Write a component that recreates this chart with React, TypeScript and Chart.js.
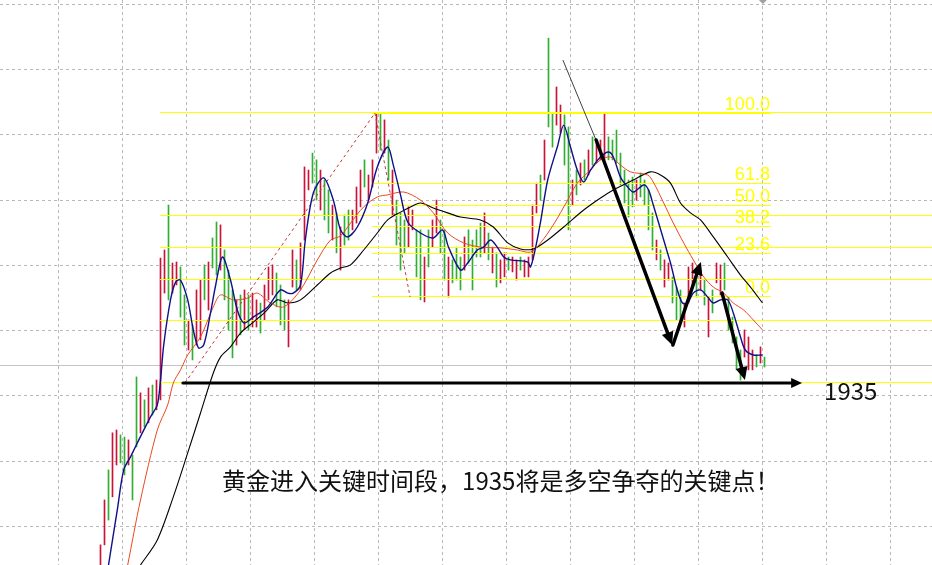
import { useEffect, useRef } from "react";
import { Chart, registerables } from "chart.js";

Chart.register(...registerables);

// ---- bar data (bar index 0..166), prices ----
const barHigh = [
  1873.0, 1890.2, 1901.7, 1915.9, 1917.0, 1915.1, 1914.3, 1913.2, 1907.4, 1937.3,
  1931.2, 1928.5, 1933.1, 1934.2, 1936.1, 1982.8, 1985.9, 2003.1, 1980.9, 1981.3,
  1979.4, 1968.7, 1959.1, 1957.2, 1970.6, 1974.4, 1980.2, 1981.3, 1990.5, 1996.6,
  1995.5, 1985.9, 1978.2, 1970.6, 1966.8, 1968.7, 1970.6, 1968.7, 1969.4, 1966.8,
  1965.6, 1972.5, 1979.4, 1980.2, 1977.1, 1972.5, 1966.8, 1966.8, 1985.9, 1982.1,
  1988.6, 2017.7, 2016.5, 2023.0, 2020.4, 2016.5, 2012.7, 2008.9, 2003.1, 2000.1,
  1994.7, 1999.3, 2001.2, 2001.2, 2010.0, 2016.5, 2020.4, 2014.6, 2020.4, 2038.3,
  2038.3, 2035.7, 2028.0, 2016.5, 2005.0, 2000.1, 1997.4, 2002.4, 2001.2, 1993.6,
  1993.6, 1983.2, 1993.6, 1997.4, 2005.0, 1997.4, 1993.6, 1983.2, 1982.1, 1987.0,
  1983.2, 1990.9, 1993.6, 1989.7, 1993.6, 1996.2, 2000.1, 1992.4, 1987.0, 1984.8,
  1982.1, 1984.8, 1983.2, 1983.2, 1982.1, 1983.2, 1982.1, 1983.2, 2003.1, 2011.5,
  2014.6, 2028.0, 2067.0, 2038.3, 2048.3, 2041.4, 2037.6, 2033.0, 2012.7, 2016.5,
  2019.2, 2020.4, 2024.2, 2029.2, 2028.0, 2028.0, 2038.3, 2029.2, 2028.0, 2031.8,
  2023.0, 2016.5, 2012.7, 2013.8, 2012.7, 2015.4, 2012.7, 2008.9, 2000.1, 1989.7,
  1985.9, 1982.1, 1980.9, 1975.6, 1971.7, 1970.6, 1965.6, 1979.4, 1980.9, 1978.2,
  1978.2, 1974.4, 1967.9, 1970.6, 1980.9, 1980.2, 1980.9, 1967.9, 1960.2, 1952.6,
  1947.6, 1955.3, 1952.6, 1947.6, 1945.7, 1948.8, 1944.9,
];

const barLow = [
  1861.5, 1873.0, 1882.5, 1891.4, 1903.6, 1904.4, 1899.8, 1903.6, 1890.2, 1910.5,
  1915.9, 1918.1, 1919.7, 1922.7, 1924.7, 1928.5, 1969.4, 1966.8, 1969.4, 1972.5,
  1960.2, 1949.5, 1947.6, 1943.8, 1949.5, 1951.5, 1966.8, 1962.9, 1979.0, 1976.3,
  1978.2, 1966.8, 1955.3, 1944.6, 1949.5, 1953.4, 1955.3, 1955.3, 1956.4, 1956.4,
  1954.1, 1959.1, 1966.8, 1968.7, 1964.1, 1957.2, 1955.3, 1948.8, 1971.7, 1970.6,
  1970.6, 1989.7, 2008.9, 2011.5, 2005.0, 2001.2, 1997.4, 1992.4, 1989.7, 1984.8,
  1978.2, 1987.8, 1989.7, 1993.6, 1996.2, 2002.4, 2010.0, 2005.0, 2010.0, 2023.0,
  2024.2, 2023.0, 2012.7, 1999.3, 1987.8, 1978.2, 1984.8, 1987.0, 1993.6, 1975.6,
  1966.8, 1966.0, 1979.4, 1987.0, 1992.4, 1984.8, 1974.4, 1967.9, 1973.3, 1974.4,
  1970.6, 1978.2, 1980.9, 1970.6, 1983.2, 1983.2, 1984.8, 1982.1, 1977.1, 1971.7,
  1973.3, 1975.6, 1978.2, 1977.5, 1974.4, 1978.2, 1975.6, 1975.6, 1982.1, 2000.1,
  2005.0, 2012.7, 2033.0, 2025.3, 2033.7, 2030.7, 2018.4, 1993.6, 2003.1, 2007.0,
  2010.8, 2012.7, 2014.6, 2018.4, 2019.2, 2020.4, 2020.4, 2020.4, 2020.4, 2019.2,
  2010.8, 2003.9, 1998.5, 2002.4, 2005.0, 2006.2, 2003.1, 1993.6, 1985.9, 1982.1,
  1978.2, 1971.7, 1974.4, 1965.6, 1959.1, 1958.0, 1956.4, 1965.6, 1971.7, 1967.9,
  1970.6, 1964.8, 1952.6, 1961.8, 1973.3, 1968.7, 1970.6, 1955.3, 1950.3, 1940.0,
  1936.1, 1944.9, 1940.0, 1940.0, 1941.1, 1942.6, 1941.1,
];

// R = red bar, G = green bar
const barDir =
  "RRGRRGGRGG" + "RGRGRRRGRR" + "GGRGRRGRGG" + "RGGGRGRGRR" + "GRRRGGGRRG" +
  "RRRGGRGGRG" + "RGGRRRGRRR" + "GRGRGGGRRG" + "GRGRRGGRGG" + "GRGGGGRGRG" +
  "RRGRRGRRRR" + "GRGGRRGGRG" + "RGRGRRRGGG" + "GGGGRGGGGR" + "GRRGGGRRRG" +
  "RGRGRRGGGG" + "GRRRGRG";

// ---- moving averages ----
const fastMaX = [2, 4.2, 5.8, 7.5, 9.2, 12.5, 14.2, 15, 15.8, 17.5, 18.8, 20, 21.8, 23.2, 24.5, 25.8, 27.5, 28.8, 30.5, 32.5, 34.2, 35.8, 38.2, 41.8, 45, 46.8, 48.2, 50, 51.2, 53.2, 55.8, 58.2, 60, 61.8, 64.2, 66.8, 69.2, 71.8, 73.2, 75, 76.8, 80, 83.2, 85.5, 87, 90, 91.8, 94.2, 95.8, 97.5, 99.2, 100.8, 102.5, 106.8, 107.5, 108.8, 110, 111.8, 114.2, 115.8, 117.5, 119.2, 120.8, 122.5, 125, 127, 128.2, 130, 131.8, 133.2, 135.8, 137, 138.2, 140.8, 142.5, 144.2, 145.5, 146.8, 148.2, 150, 151.8, 153.2, 155, 156.8, 158.2, 160, 161.2, 163.2, 165.5];
const fastMaY = [1865.3, 1886.4, 1901.7, 1906.7, 1912.0, 1922.0, 1926.6, 1936.1, 1949.5, 1966.8, 1973.7, 1974.4, 1966.8, 1955.3, 1948.4, 1949.5, 1961.8, 1972.5, 1983.2, 1974.4, 1962.9, 1958.0, 1960.2, 1964.1, 1970.6, 1969.4, 1969.4, 1972.5, 1989.7, 2007.7, 2013.5, 2005.0, 1993.6, 1990.9, 1994.7, 2003.9, 2017.7, 2025.3, 2018.4, 2007.0, 1996.6, 1992.4, 1990.5, 1993.6, 1987.0, 1978.2, 1980.9, 1985.9, 1987.0, 1989.7, 1987.0, 1983.2, 1982.1, 1981.3, 1979.4, 1987.0, 1996.6, 2012.7, 2025.3, 2033.7, 2025.3, 2016.5, 2011.9, 2016.5, 2021.5, 2023.4, 2021.5, 2013.8, 2010.0, 2008.1, 2010.8, 2008.9, 2003.1, 1989.7, 1980.9, 1970.6, 1965.6, 1965.6, 1969.4, 1970.6, 1967.9, 1965.6, 1966.8, 1966.8, 1961.8, 1952.6, 1947.6, 1945.7, 1945.7];

const midMaX = [6.8, 10, 14.2, 16.8, 18.2, 20, 21.8, 25, 28.2, 30, 33.2, 36.8, 39.2, 42.5, 45.8, 50, 54.2, 57.5, 60, 62.5, 65.8, 69.2, 71.8, 75.8, 80, 83.2, 86.8, 90.8, 95, 100, 104.2, 107.5, 110, 113.2, 116.8, 119.2, 122.5, 125, 127.5, 130, 132.5, 136.8, 138.2, 140.8, 143.2, 145.8, 148.2, 150.8, 153.2, 155.8, 158.2, 160.8, 163.2, 165.5];
const midMaY = [1865.3, 1890.2, 1917.0, 1926.6, 1935.0, 1940.0, 1945.7, 1952.6, 1964.1, 1968.7, 1966.8, 1967.5, 1969.4, 1965.6, 1964.1, 1970.6, 1982.1, 1989.7, 1991.3, 1996.2, 2002.4, 2006.2, 2007.0, 2008.1, 2005.0, 2000.1, 1992.4, 1988.6, 1987.0, 1986.7, 1985.9, 1985.1, 1988.6, 1995.5, 2005.0, 2011.5, 2016.5, 2020.4, 2021.5, 2018.4, 2015.8, 2014.6, 2011.9, 2003.9, 1996.2, 1988.6, 1982.1, 1975.6, 1971.7, 1969.4, 1965.6, 1962.9, 1959.1, 1955.3];

const slowMaX = [10, 14.2, 18.2, 21.8, 25, 28.2, 30, 32.5, 35, 38, 41.2, 44.2, 46.8, 50, 54.2, 57.5, 60, 62.5, 65.8, 69.2, 71.8, 75, 77.5, 80, 83.2, 86.8, 90, 95, 98.2, 101.8, 105, 108.2, 111.8, 115.8, 120.8, 125, 128.2, 133.2, 137.5, 140, 142.5, 145, 147.5, 150, 153.2, 156.8, 160, 162.5, 165.5];
const slowMaY = [1865.3, 1874.9, 1891.4, 1908.2, 1923.5, 1938.8, 1944.9, 1948.8, 1954.1, 1958.0, 1962.2, 1966.8, 1965.6, 1966.8, 1972.5, 1977.1, 1979.0, 1980.2, 1985.9, 1992.4, 1997.4, 2000.4, 2002.4, 2003.9, 2002.0, 2000.1, 1998.5, 1997.4, 1994.7, 1988.6, 1986.3, 1986.3, 1989.7, 1994.7, 2001.2, 2005.8, 2008.9, 2012.7, 2015.8, 2014.6, 2011.5, 2003.9, 2000.1, 1997.4, 1990.9, 1983.2, 1976.3, 1971.7, 1965.6];

// ---- Fibonacci tools ----
const fibLabels = ["100.0", "61.8", "50.0", "38.2", "23.6", "0.0"];
const fibPrices = [2038.3, 2011.5, 2003.1, 1994.7, 1984.7, 1967.9];
const fibSpan = [67.9, 167.6]; // bar range of the labelled tool
const fib2Prices = [2038.7, 1999.0, 1986.8, 1974.5, 1959.0, 1935.0];
const fib2Start = 14.9;
const fibTrend1 = [21.1, 1935.0, 68.6, 2038.3];
const fibTrend2 = [68.6, 2038.3, 77.4, 1967.9];

// ---- grid, price line, annotations ----
const gridPrices = [1880, 1905, 1930, 1955, 1980, 2005, 2030, 2055, 2080];
const gridBars = [-10.5, 5.5, 21.5, 37.5, 53.5, 69.5, 85.5, 101.5, 117.5, 133.5, 149.5, 165.5, 181.5, 197.5];
const lastPrice = 1941.5;
const keyLevel = 1935;
const keyArrow = [20.6, 175.4];
const keyLabel = "1935";
const keyLabelPos = [180.9, 1931.9];
const thinTrend = [115.6, 2058.6, 124.9, 2024.2];
const swingArrows = [
  [123.9, 2028.0, 142.9, 1949.5],
  [143.1, 1949.5, 150.1, 1981.3],
  [155.4, 1969.4, 161.1, 1936.1],
];
const noteText = "黄金进入关键时间段，1935将是多空争夺的关键点！";
const notePos = [30.4, 1897.5];
const markerBar = 165.6;

const RED = "#cc1238";
const GREEN = "#30b030";
const YELLOW = "#ffff00";

function drawArrow(ctx: CanvasRenderingContext2D, x1: number, y1: number, x2: number, y2: number, w: number, hl: number, hw: number) {
  const a = Math.atan2(y2 - y1, x2 - x1);
  const bx = x2 - Math.cos(a) * hl;
  const by = y2 - Math.sin(a) * hl;
  ctx.lineWidth = w;
  ctx.lineCap = "round";
  ctx.beginPath();
  ctx.moveTo(x1, y1);
  ctx.lineTo(bx, by);
  ctx.stroke();
  ctx.beginPath();
  ctx.moveTo(x2, y2);
  ctx.lineTo(bx + Math.sin(a) * hw, by - Math.cos(a) * hw);
  ctx.lineTo(bx - Math.sin(a) * hw, by + Math.cos(a) * hw);
  ctx.closePath();
  ctx.fill();
}

const overlay = {
  id: "overlay",
  beforeDatasetsDraw(chart: any) {
    const { ctx, chartArea: ca } = chart;
    const x = chart.scales.x;
    const y = chart.scales.y;
    ctx.save();
    ctx.strokeStyle = "#b8b8b8";
    ctx.lineWidth = 1;
    ctx.setLineDash([3, 3]);
    for (const g of gridBars) {
      const px = Math.floor(x.getPixelForValue(g)) + 0.5;
      ctx.beginPath();
      ctx.moveTo(px, ca.top);
      ctx.lineTo(px, ca.bottom);
      ctx.stroke();
    }
    for (const p of gridPrices) {
      const py = Math.floor(y.getPixelForValue(p)) + 0.5;
      ctx.beginPath();
      ctx.moveTo(ca.left, py);
      ctx.lineTo(ca.right, py);
      ctx.stroke();
    }
    ctx.setLineDash([]);
    ctx.strokeStyle = "#c4c4c4";
    const lp = Math.floor(y.getPixelForValue(lastPrice)) + 0.5;
    ctx.beginPath();
    ctx.moveTo(ca.left, lp);
    ctx.lineTo(ca.right, lp);
    ctx.stroke();
    // small marker at top
    const mx = x.getPixelForValue(markerBar);
    ctx.fillStyle = "#a0a0a0";
    ctx.beginPath();
    ctx.moveTo(mx - 4, ca.top);
    ctx.lineTo(mx + 4, ca.top);
    ctx.lineTo(mx, ca.top + 4);
    ctx.closePath();
    ctx.fill();
    ctx.restore();
  },
  afterDatasetDraw(chart: any, args: any) {
    if (args.index !== 0) return;
    const { ctx, chartArea: ca } = chart;
    const x = chart.scales.x;
    const y = chart.scales.y;
    ctx.save();
    ctx.strokeStyle = YELLOW;
    ctx.lineWidth = 1;
    const x0 = x.getPixelForValue(fib2Start);
    for (const p of fib2Prices) {
      const py = Math.floor(y.getPixelForValue(p)) + 0.5;
      ctx.beginPath();
      ctx.moveTo(x0, py);
      ctx.lineTo(ca.right, py);
      ctx.stroke();
    }
    const xa = x.getPixelForValue(fibSpan[0]);
    const xb = x.getPixelForValue(fibSpan[1]);
    ctx.fillStyle = YELLOW;
    ctx.font = '18px "Liberation Sans", Arial, sans-serif';
    ctx.textAlign = "right";
    ctx.textBaseline = "alphabetic";
    fibPrices.forEach((p, i) => {
      const py = Math.floor(y.getPixelForValue(p)) + 0.5;
      ctx.beginPath();
      ctx.moveTo(xa, py);
      ctx.lineTo(xb, py);
      ctx.stroke();
      ctx.fillText(fibLabels[i], xb - 1, py - 4);
    });
    // dashed trend lines of the fib tools
    ctx.strokeStyle = "#c03a3a";
    ctx.setLineDash([3, 3]);
    for (const t of [fibTrend1, fibTrend2]) {
      ctx.beginPath();
      ctx.moveTo(x.getPixelForValue(t[0]), y.getPixelForValue(t[1]));
      ctx.lineTo(x.getPixelForValue(t[2]), y.getPixelForValue(t[3]));
      ctx.stroke();
    }
    ctx.restore();
  },
  afterDatasetsDraw(chart: any) {
    const { ctx } = chart;
    const x = chart.scales.x;
    const y = chart.scales.y;
    ctx.save();
    // thin trend line
    ctx.strokeStyle = "#404040";
    ctx.lineWidth = 1;
    ctx.beginPath();
    ctx.moveTo(x.getPixelForValue(thinTrend[0]), y.getPixelForValue(thinTrend[1]));
    ctx.lineTo(x.getPixelForValue(thinTrend[2]), y.getPixelForValue(thinTrend[3]));
    ctx.stroke();
    ctx.strokeStyle = "#000";
    ctx.fillStyle = "#000";
    for (const a of swingArrows) {
      drawArrow(ctx, x.getPixelForValue(a[0]), y.getPixelForValue(a[1]), x.getPixelForValue(a[2]), y.getPixelForValue(a[3]), 3.5, 13, 6);
    }
    const ky = y.getPixelForValue(keyLevel);
    drawArrow(ctx, x.getPixelForValue(keyArrow[0]), ky, x.getPixelForValue(keyArrow[1]), ky, 3, 11, 5);
    ctx.lineCap = "butt";
    ctx.fillStyle = "#111";
    ctx.textAlign = "left";
    ctx.textBaseline = "middle";
    ctx.font = '24px "Noto Sans CJK SC", "Noto Sans", sans-serif';
    ctx.fillText(keyLabel, x.getPixelForValue(keyLabelPos[0]), y.getPixelForValue(keyLabelPos[1]));
    ctx.font = '24px "Noto Sans CJK SC", sans-serif';
    ctx.fillText(noteText, x.getPixelForValue(notePos[0]), y.getPixelForValue(notePos[1]));
    ctx.restore();
  },
};

export default function App() {
  const ref = useRef<HTMLCanvasElement | null>(null);
  useEffect(() => {
    if (!ref.current) return;
    const bars = barHigh.map((h, i) => ({ x: i, y: [barLow[i], h] }));
    const colors = barDir.split("").map((c) => (c === "R" ? RED : GREEN));
    const toPts = (xs: number[], ys: number[]) => xs.map((v, i) => ({ x: v, y: ys[i] }));
    const chart = new Chart(ref.current, {
      type: "bar",
      data: {
        datasets: [
          {
            type: "bar",
            data: bars as any,
            backgroundColor: colors,
            borderWidth: 0,
            borderSkipped: false,
            barThickness: 1,
            grouped: false,
            order: 10,
          } as any,
          {
            type: "line",
            data: toPts(fastMaX, fastMaY) as any,
            borderColor: "#10108a",
            borderWidth: 1.4,
            pointRadius: 0,
            tension: 0.3,
            order: 1,
          } as any,
          {
            type: "line",
            data: toPts(midMaX, midMaY) as any,
            borderColor: "#e8491d",
            borderWidth: 1,
            pointRadius: 0,
            tension: 0.3,
            order: 2,
          } as any,
          {
            type: "line",
            data: toPts(slowMaX, slowMaY) as any,
            borderColor: "#000000",
            borderWidth: 1.1,
            pointRadius: 0,
            tension: 0.3,
            order: 3,
          } as any,
        ],
      },
      options: {
        animation: false,
        responsive: false,
        events: [],
        layout: { padding: 0 },
        plugins: { legend: { display: false }, tooltip: { enabled: false } },
        scales: {
          x: { type: "linear", display: false, min: -25.125, max: 207.875, offset: false },
          y: { type: "linear", display: false, min: 1865.3, max: 2081.6 },
        },
      } as any,
      plugins: [overlay],
    });
    return () => chart.destroy();
  }, []);
  return (
    <div style={{ position: "fixed", left: 0, top: 0, width: 932, height: 565, background: "#fff" }}>
      <canvas ref={ref} width={932} height={565} />
    </div>
  );
}
